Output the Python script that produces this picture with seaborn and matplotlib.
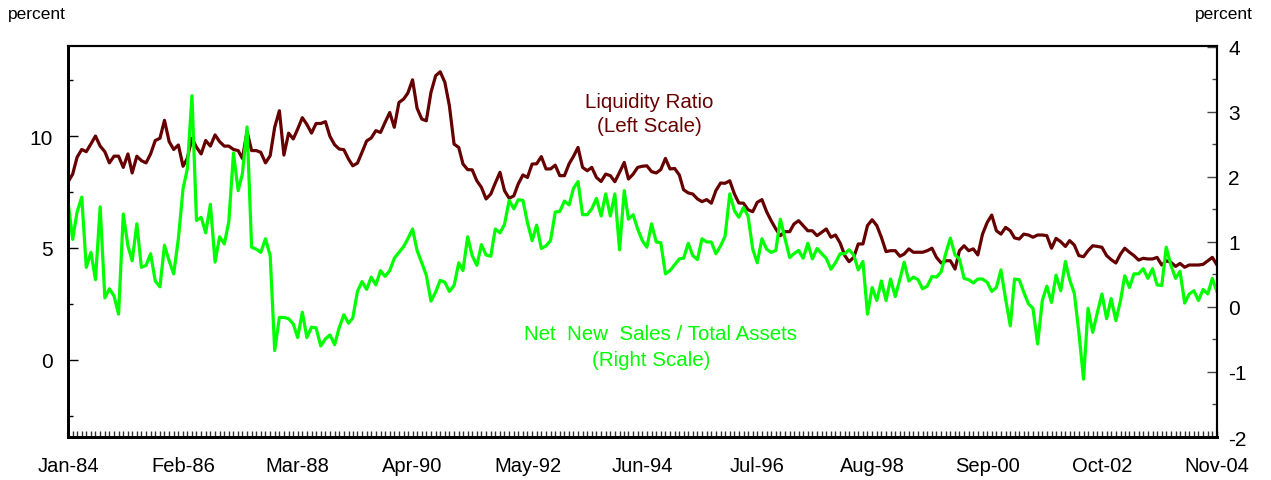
import pandas as pd
import matplotlib
matplotlib.use("Agg")
import matplotlib.pyplot as plt
import matplotlib.dates as mdates
from matplotlib.ticker import MultipleLocator, FixedLocator
import seaborn as sns

# monthly data, Jan-84 .. Nov-04
start_month = "1984-01-01"

# liquidity ratio, percent (left scale)
liquidity_ratio = [
    7.95, 8.3, 9.05, 9.4, 9.3, 9.65, 10.0, 9.55, 9.3, 8.8, 9.1, 9.1, 8.6, 9.2, 8.35, 9.1, 8.9, 8.8, 9.2, 9.8,
    9.9, 10.7, 9.75, 9.4, 9.6, 8.65, 9.0, 9.9, 9.5, 9.2, 9.8, 9.55, 10.05, 9.75, 9.55, 9.55, 9.4, 9.35, 9.0, 10.2,
    9.35, 9.35, 9.27, 8.8, 9.12, 10.39, 11.13, 9.15, 10.13, 9.87, 10.31, 10.82, 10.52, 10.13, 10.56, 10.56, 10.64, 9.98, 9.61, 9.42,
    9.39, 8.97, 8.67, 8.79, 9.27, 9.78, 9.91, 10.24, 10.16, 10.61, 11.05, 10.39, 11.5, 11.65, 11.92, 12.51, 11.24, 10.76, 10.68, 11.95,
    12.69, 12.87, 12.4, 11.35, 9.64, 9.49, 8.75, 8.5, 8.49, 8.0, 7.71, 7.19, 7.41, 7.9, 8.38, 7.56, 7.22, 7.33, 7.86, 8.26,
    8.15, 8.75, 8.76, 9.08, 8.53, 8.53, 8.7, 8.23, 8.23, 8.76, 9.08, 9.49, 8.6, 8.45, 8.6, 8.15, 7.97, 8.3, 8.23, 7.96,
    8.38, 8.82, 8.08, 8.3, 8.6, 8.65, 8.67, 8.41, 8.35, 8.5, 9.0, 8.53, 8.55, 8.26, 7.6, 7.46, 7.41, 7.19, 7.07, 7.16,
    7.0, 7.56, 7.9, 7.89, 8.0, 7.41, 7.01, 7.0, 6.71, 6.62, 7.04, 7.16, 6.62, 6.22, 5.85, 5.55, 5.73, 5.73, 6.07,
    6.22, 6.0, 5.77, 5.77, 5.55, 5.70, 5.85, 5.48, 5.58, 5.22,
    4.66, 4.39, 4.58, 5.18, 5.18, 6.0, 6.26, 6.0, 5.48, 4.84,
    4.88, 4.88, 4.63, 4.73, 4.96, 4.81, 4.81, 4.81, 4.88, 4.99,
    4.58, 4.33, 4.43, 4.43, 4.06, 4.88, 5.10, 4.88, 4.96, 4.69,
    5.62, 6.14, 6.47, 5.77, 5.62, 5.92, 5.77, 5.45, 5.40, 5.62,
    5.58, 5.48, 5.58, 5.58, 5.55, 4.99, 5.43, 5.28, 5.07, 5.33,
    5.13, 4.66, 4.61, 4.88, 5.10, 5.07, 5.03, 4.66, 4.48, 4.33,
    4.73, 4.99, 4.81, 4.66, 4.46, 4.54, 4.51, 4.51, 4.58, 4.24,
    4.43, 4.36, 4.18, 4.31, 4.14, 4.24, 4.24, 4.24, 4.27, 4.43,
    4.58, 4.24,
]

# net new sales / total assets, percent (right scale)
net_new_sales = [
    1.62, 1.04, 1.46, 1.69, 0.61, 0.84, 0.42, 1.54, 0.14, 0.28, 0.17, -0.11, 1.43, 0.94, 0.71, 1.28, 0.61, 0.64, 0.82, 0.40,
    0.31, 0.95, 0.71, 0.51, 1.05, 1.82, 2.12, 3.25, 1.33, 1.38, 1.14, 1.58, 0.69, 1.08, 0.97, 1.31, 2.37, 1.79, 2.05, 2.77,
    0.92, 0.89, 0.84, 1.05, 0.79, -0.67, -0.16, -0.16, -0.18, -0.26, -0.47, -0.08, -0.47, -0.31, -0.32, -0.6, -0.49, -0.43, -0.58, -0.32,
    -0.12, -0.25, -0.17, 0.24, 0.39, 0.27, 0.46, 0.34, 0.56, 0.47, 0.56, 0.75, 0.84, 0.93, 1.05, 1.2, 0.87, 0.68, 0.49, 0.09,
    0.23, 0.41, 0.38, 0.24, 0.33, 0.68, 0.56, 1.08, 0.79, 0.64, 0.96, 0.8, 0.78, 1.2, 1.14, 1.27, 1.64, 1.51, 1.65, 1.64,
    1.3, 1.02, 1.26, 0.9, 0.94, 1.02, 1.46, 1.47, 1.63, 1.57, 1.82, 1.93, 1.42, 1.42, 1.51, 1.67, 1.4, 1.74, 1.4, 1.74,
    0.88, 1.79, 1.35, 1.42, 1.2, 1.02, 0.92, 1.28, 1.0, 0.99, 0.51, 0.56, 0.65, 0.74, 0.75, 0.98, 0.79, 0.73, 1.05, 1.0,
    1.0, 0.82, 0.94, 1.09, 1.74, 1.48, 1.38, 1.53, 1.4, 0.89, 0.68, 1.05, 0.89, 0.84, 0.87, 1.35, 1.05, 0.76, 0.82,
    0.87, 0.75, 0.98, 0.74, 0.90, 0.82, 0.75, 0.58, 0.68, 0.82,
    0.82, 0.88, 0.80, 0.57, 0.70, -0.11, 0.30, 0.10, 0.40, 0.10,
    0.43, 0.16, 0.43, 0.69, 0.40, 0.46, 0.42, 0.28, 0.32, 0.47,
    0.46, 0.54, 0.82, 1.06, 0.80, 0.74, 0.44, 0.42, 0.37, 0.43,
    0.43, 0.38, 0.24, 0.30, 0.57, 0.12, -0.29, 0.43, 0.42, 0.23,
    0.05, -0.02, -0.57, 0.10, 0.32, 0.07, 0.49, 0.25, 0.70, 0.42,
    0.21, -0.39, -1.11, -0.02, -0.39, -0.08, 0.20, -0.18, 0.13, -0.21,
    0.10, 0.48, 0.30, 0.51, 0.51, 0.59, 0.44, 0.59, 0.34, 0.33,
    0.92, 0.64, 0.44, 0.55, 0.06, 0.20, 0.25, 0.10, 0.27, 0.20,
    0.44, 0.23,
]

assert len(liquidity_ratio) == 251 and len(net_new_sales) == 251

sns.set_style("white")
plt.rcParams['font.family'] = ['Liberation Sans', 'DejaVu Sans']
plt.rcParams['axes.unicode_minus'] = False
plt.rcParams['text.color'] = 'black'
plt.rcParams['xtick.color'] = 'black'
plt.rcParams['ytick.color'] = 'black'

dates = pd.date_range(start_month, periods=len(liquidity_ratio), freq="MS")
df = pd.DataFrame({"date": dates, "liquidity": liquidity_ratio, "sales": net_new_sales})

red = "#660000"
green = "#00ff00"

fig = plt.figure(figsize=(12.71, 4.81), dpi=100)
W, H = 1271, 481
ax = fig.add_axes([68 / W, 1 - 438 / H, (1217 - 68) / W, (438 - 47) / H])
ax2 = ax.twinx()

sns.lineplot(data=df, x="date", y="liquidity", ax=ax, color=red, linewidth=2.3)
sns.lineplot(data=df, x="date", y="sales", ax=ax2, color=green, linewidth=2.3)

ax.set_xlim(dates[0], dates[-1])
ax.set_ylim(-3.44, 14.02)
ax2.set_ylim(-2, 4.015)
for a in (ax, ax2):
    a.set_xlabel("")
    a.set_ylabel("")

# x axis: label every 25 months, tick every month
ax.xaxis.set_major_locator(FixedLocator(mdates.date2num(dates[::25])))
ax.xaxis.set_major_formatter(mdates.DateFormatter("%b-%y"))
ax.xaxis.set_minor_locator(mdates.MonthLocator())
ax.tick_params(axis="x", which="both", direction="in", length=4.5, width=1,
               color="#333333", labelcolor="black", labelsize=14.5, pad=14, bottom=True)

ax.yaxis.set_major_locator(MultipleLocator(5))
ax.yaxis.set_minor_locator(MultipleLocator(2.5))
ax.tick_params(axis="y", which="major", direction="in", length=7, width=1,
               labelcolor="black", labelsize=15, pad=11, left=True)
ax.tick_params(axis="y", which="minor", direction="in", length=3.5, width=1, left=True)

ax2.yaxis.set_major_locator(MultipleLocator(1))
ax2.yaxis.set_minor_locator(MultipleLocator(0.5))
ax2.tick_params(axis="y", which="major", direction="in", length=7, width=1,
                color="#444444", labelcolor="black", labelsize=15, pad=8, right=True)
ax2.tick_params(axis="y", which="minor", direction="in", length=3.5, width=1,
                color="#444444", right=True)

for a in (ax, ax2):
    for side, sp in a.spines.items():
        sp.set_visible(True)
        sp.set_color("black")
        sp.set_linewidth(2.0 if side in ("left", "bottom") else 1.5)

# unit labels
fig.text(8 / W, 1 - 15 / H, "percent", ha="left", va="center", fontsize=12.5)
fig.text(1224 / W, 1 - 15 / H, "percent", ha="center", va="center", fontsize=12.5)

# series annotations
fig.text(649 / W, 1 - 102 / H, "Liquidity Ratio", color=red, ha="center", va="center", fontsize=14.8)
fig.text(649 / W, 1 - 127 / H, "(Left Scale)", color=red, ha="center", va="center", fontsize=14.8)
fig.text(661 / W, 1 - 335 / H, "Net  New  Sales / Total Assets", color=green, ha="center", va="center", fontsize=14.8)
fig.text(651 / W, 1 - 361 / H, "(Right Scale)", color=green, ha="center", va="center", fontsize=14.8)

fig.savefig("out.png", dpi=100)
